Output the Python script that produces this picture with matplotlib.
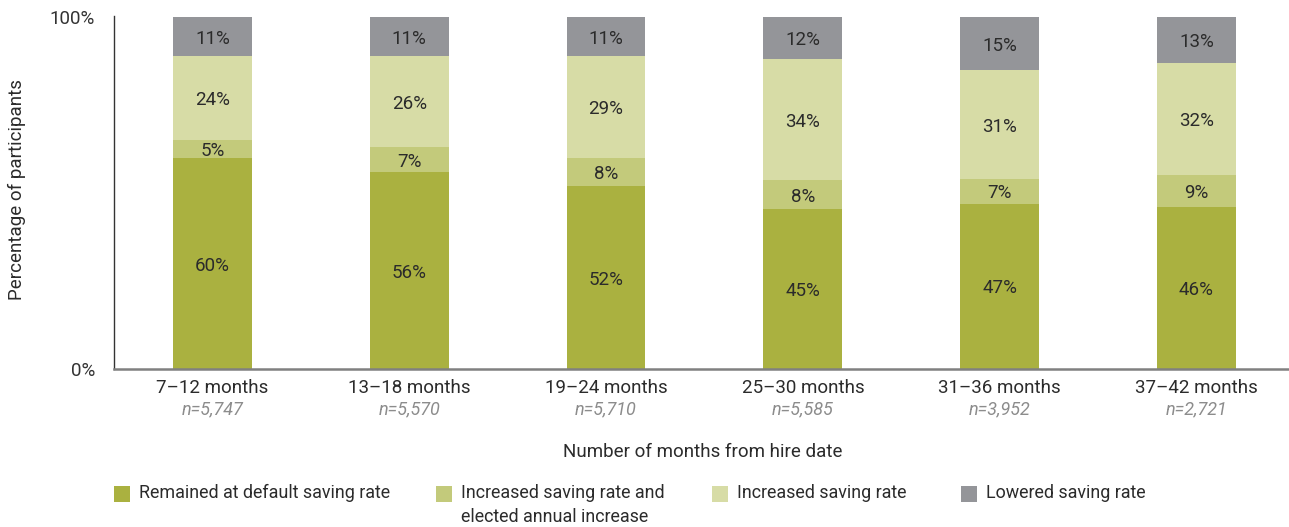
import numpy as np
import matplotlib
matplotlib.use("Agg")
import matplotlib.pyplot as plt
from matplotlib.patches import Rectangle
from matplotlib.transforms import blended_transform_factory

plt.rcParams["font.family"] = ["Roboto", "DejaVu Sans"]

### data ###
categories = ["7\u201312 months", "13\u201318 months", "19\u201324 months",
              "25\u201330 months", "31\u201336 months", "37\u201342 months"]
n_labels = ["n=5,747", "n=5,570", "n=5,710", "n=5,585", "n=3,952", "n=2,721"]

# segment heights (percent of participants)
remained = [60, 56, 52, 45.4, 47, 46]
increased_annual = [5, 7, 8, 8.2, 7, 9]
increased = [24, 26, 29, 34.4, 31, 32]
lowered = [11, 11, 11, 12.0, 15, 13]

series = [remained, increased_annual, increased, lowered]
series_names = ["Remained at default saving rate",
                "Increased saving rate and\nelected annual increase",
                "Increased saving rate",
                "Lowered saving rate"]
colors = ["#aab140", "#c3ca7b", "#d7dca6", "#949599"]
txt = "#2b2b2b"

### figure ###
W, H = 1289, 527
fig = plt.figure(figsize=(W / 100, H / 100), dpi=100)
ax = fig.add_axes([114 / W, 1 - 369 / H, 1 - 114 / W, (369 - 16) / H])

x = np.arange(len(categories))
bottom = np.zeros(len(categories))
for vals, col in zip(series, colors):
    vals = np.array(vals, dtype=float)
    bars = ax.bar(x, vals, width=0.40, bottom=bottom, color=col, linewidth=0)
    for xi, b, v in zip(x, bottom, vals):
        ax.text(xi, b + v / 2 - 0.6, f"{v:.0f}%", ha="center", va="center",
                fontsize=13.5, color=txt)
    bottom += vals

ax.set_xlim(-0.50, 5.47)
ax.set_ylim(0, 100.3)

for s in ["top", "right"]:
    ax.spines[s].set_visible(False)
ax.spines["left"].set_color("#333333")
ax.spines["left"].set_linewidth(1.0)
ax.spines["bottom"].set_color("#808080")
ax.spines["bottom"].set_linewidth(1.8)

ax.set_yticks([0, 100])
ax.set_yticklabels(["0%", "100%"], fontsize=13.5, color="#333333")
ax.tick_params(axis="y", length=0, pad=13.5)
ax.set_xticks(x)
ax.set_xticklabels(categories, fontsize=13.5, color=txt)
ax.tick_params(axis="x", length=0, pad=7)

trans = blended_transform_factory(ax.transData, fig.transFigure)
for xi, nl in zip(x, n_labels):
    ax.text(xi, 1 - 409 / H, nl, transform=trans, ha="center", va="center",
            fontsize=13, color="#8c8c8c", style="italic")

fig.text(17 / W, 1 - 190 / H, "Percentage of participants", rotation=90,
         ha="center", va="center", fontsize=13.5, color=txt)
fig.text(703 / W, 1 - 452 / H, "Number of months from hire date",
         ha="center", va="center", fontsize=13.5, color=txt)

# legend drawn by hand so the columns sit where they do in the original
leg_x = [114, 436, 712, 961]
for lx, col, name in zip(leg_x, colors, series_names):
    fig.add_artist(Rectangle((lx / W, 1 - 502 / H), 16 / W, 16 / H,
                             transform=fig.transFigure, color=col, lw=0))
    fig.text((lx + 25) / W, 1 - 484 / H, name, ha="left", va="top",
             fontsize=12.9, color=txt, linespacing=1.45)

fig.savefig("out.png", dpi=100)
